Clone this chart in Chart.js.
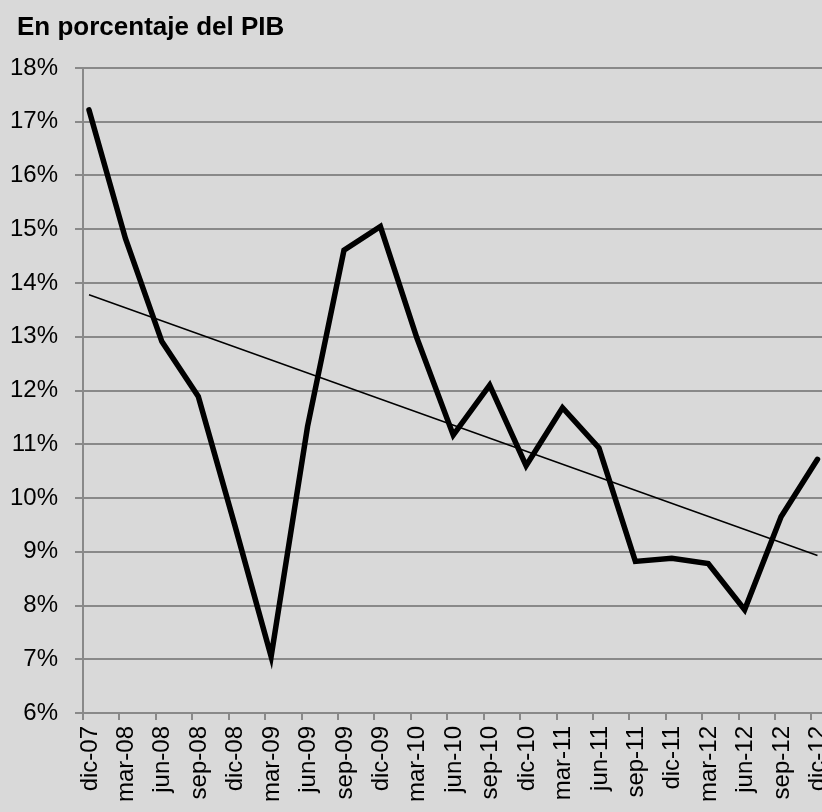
<!DOCTYPE html>
<html>
<head>
<meta charset="utf-8">
<script src="https://cdn.jsdelivr.net/npm/chart.js@4/dist/chart.umd.min.js"></script>
<style>
  html, body { margin: 0; padding: 0; background: #d9d9d9; overflow: hidden; }
  canvas { display: block; background: #d9d9d9; }
</style>
</head>
<body>
<canvas id="c" width="822" height="812"></canvas>
<script>
// Data
const titleText = "En porcentaje del PIB";
const categories = ["dic-07","mar-08","jun-08","sep-08","dic-08","mar-09","jun-09","sep-09","dic-09",
  "mar-10","jun-10","sep-10","dic-10","mar-11","jun-11","sep-11","dic-11","mar-12","jun-12","sep-12","dic-12"];
const seriesValues = [17.22, 14.83, 12.91, 11.89, 9.50, 7.05, 11.33, 14.61, 15.05,
  12.98, 11.17, 12.10, 10.60, 11.68, 10.93, 8.82, 8.88, 8.78, 7.92, 9.65, 10.72];
const trendStartEnd = [13.78, 8.93]; // linear trend line, at first and last category
const yTickValues = [6,7,8,9,10,11,12,13,14,15,16,17,18];

const GRID = '#898989';
const TICK_SHIFT = 0.165; // tick marks sit slightly left of the points
const FONT = "'Liberation Sans', Arial, sans-serif";

const titlePlugin = {
  id: 'topTitle',
  afterDraw(chart) {
    const ctx = chart.ctx;
    ctx.save();
    ctx.font = "bold 26px " + FONT;
    ctx.fillStyle = '#000';
    ctx.textAlign = 'left';
    ctx.textBaseline = 'alphabetic';
    ctx.fillText(titleText, 17, 35);
    ctx.restore();
  }
};

new Chart(document.getElementById('c'), {
  type: 'line',
  data: {
    datasets: [
      {
        label: 'PIB',
        data: seriesValues.map((v, i) => ({ x: i, y: v })),
        borderColor: '#000',
        borderWidth: 5.5,
        pointRadius: 0,
        tension: 0,
        borderCapStyle: 'round',
        borderJoinStyle: 'miter',
        fill: false
      },
      {
        label: 'Tendencia',
        data: [
          { x: 0, y: trendStartEnd[0] },
          { x: categories.length - 1, y: trendStartEnd[1] }
        ],
        borderColor: '#000',
        borderWidth: 1.5,
        pointRadius: 0,
        tension: 0,
        fill: false
      }
    ]
  },
  options: {
    responsive: false,
    animation: false,
    devicePixelRatio: 1,
    layout: { padding: { top: 68, left: 10, right: 0, bottom: 0 } },
    plugins: {
      legend: { display: false },
      title: { display: false },
      tooltip: { enabled: false }
    },
    scales: {
      x: {
        type: 'linear',
        min: -TICK_SHIFT,
        max: categories.length - 1 + 0.124,
        afterBuildTicks(scale) {
          scale.ticks = categories.map((c, i) => ({ value: i - TICK_SHIFT }));
        },
        afterFit(scale) {
          scale.height = 99;
          scale.paddingLeft = 0;
          scale.paddingRight = 0;
        },
        grid: {
          drawOnChartArea: false,
          drawTicks: true,
          tickLength: 7,
          color: GRID,
          lineWidth: 2
        },
        border: { display: true, color: GRID, width: 2 },
        ticks: {
          autoSkip: false,
          minRotation: 90,
          maxRotation: 90,
          padding: 6,
          labelOffset: 7,
          color: '#000',
          font: { family: FONT, size: 24 },
          callback: (v, i) => categories[i]
        }
      },
      y: {
        min: 6,
        max: 18,
        afterBuildTicks(scale) {
          scale.ticks = yTickValues.map(v => ({ value: v }));
        },
        afterFit(scale) {
          scale.width = 73;
        },
        grid: {
          color: GRID,
          lineWidth: 2,
          drawTicks: true,
          tickLength: 8
        },
        border: { display: true, color: GRID, width: 2 },
        ticks: {
          padding: 17,
          color: '#000',
          font: { family: FONT, size: 24 },
          callback: v => v + '%'
        }
      }
    }
  },
  plugins: [titlePlugin]
});
</script>
</body>
</html>
